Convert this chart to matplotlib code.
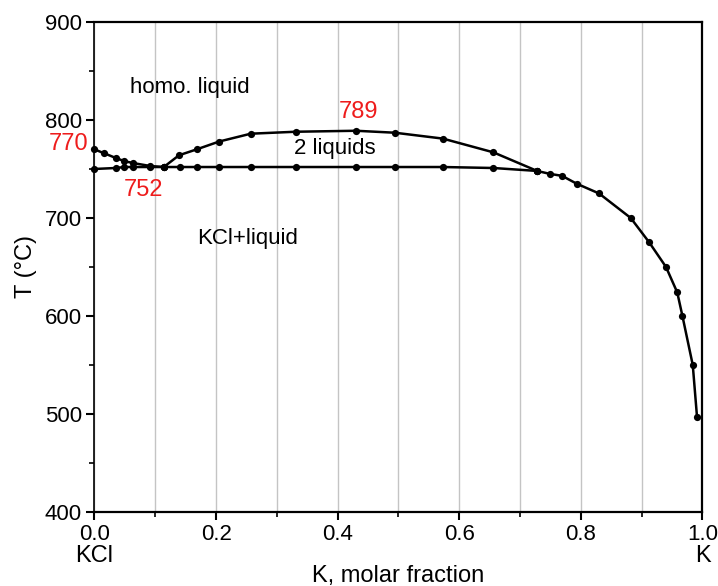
import matplotlib
matplotlib.use("Agg")
import matplotlib.pyplot as plt
from matplotlib.ticker import MultipleLocator
from matplotlib.transforms import blended_transform_factory

plt.rcParams['font.family'] = ['Liberation Sans', 'DejaVu Sans']

# KCl-side liquidus, from pure KCl down to the monotectic point
kcl_liq_x = [0.0, 0.016, 0.036, 0.049, 0.064, 0.092, 0.114]
kcl_liq_t = [770, 766, 761, 758, 756, 753, 752]

# Liquid miscibility gap (2 liquids dome)
dome_x = [0.114, 0.139, 0.168, 0.205, 0.257, 0.331, 0.430, 0.494, 0.573, 0.656, 0.728]
dome_t = [752, 764, 770, 778, 786, 788, 789, 787, 781, 767, 748]

# Monotectic / solidus line
mono_x = [0.0, 0.035, 0.049, 0.064, 0.092, 0.114, 0.140, 0.168, 0.205, 0.257,
          0.331, 0.430, 0.494, 0.573, 0.656, 0.728]
mono_t = [750, 751, 752, 752, 752, 752, 752, 752, 752, 752,
          752, 752, 752, 752, 751, 748]

# K-side liquidus
k_liq_x = [0.728, 0.749, 0.769, 0.793, 0.830, 0.882, 0.9125, 0.940, 0.9585, 0.967, 0.984, 0.991]
k_liq_t = [748, 745, 743, 735, 725, 700, 675, 650, 624, 600, 550, 497]

# Highlighted temperatures
key_labels = ['770', '752', '789']
key_pos = [(-0.042, 775.5), (0.081, 728.6), (0.435, 808.5)]

region_labels = ['homo. liquid', '2 liquids', 'KCl+liquid']
region_pos = [(0.157, 833.0), (0.396, 770.4), (0.252, 679.0)]

red = '#ee1c1c'

fig = plt.figure(figsize=(7.18, 5.86), dpi=100)
ax = fig.add_axes([0.1316, 0.1263, 0.8468, 0.8362])

for xs, ts in [(kcl_liq_x, kcl_liq_t), (dome_x, dome_t), (mono_x, mono_t), (k_liq_x, k_liq_t)]:
    ax.plot(xs, ts, '-o', color='black', lw=1.8, ms=5.2, mew=0, clip_on=False, zorder=4)

ax.set_xlim(0, 1)
ax.set_ylim(400, 900)
ax.xaxis.set_major_locator(MultipleLocator(0.2))
ax.xaxis.set_minor_locator(MultipleLocator(0.1))
ax.yaxis.set_major_locator(MultipleLocator(100))
ax.yaxis.set_minor_locator(MultipleLocator(50))
ax.xaxis.set_major_formatter(plt.FormatStrFormatter('%.1f'))

ax.grid(axis='x', which='both', color='#c4c4c4', lw=1.0)
ax.set_axisbelow(True)

ax.tick_params(which='major', direction='out', length=6, width=1.5, labelsize=16, pad=3)
ax.tick_params(which='minor', direction='out', length=3.5, width=1.2)
for side in ['top', 'right', 'bottom']:
    ax.spines[side].set_linewidth(1.6)
ax.spines['left'].set_linewidth(1.2)
ax.spines['left'].set_linestyle((0, (2, 1)))

ax.set_ylabel('T (°C)', fontsize=17, labelpad=6)
ax.set_xlabel('K, molar fraction', fontsize=17, labelpad=14)

tr = blended_transform_factory(ax.transData, ax.transAxes)
ax.annotate('KCl', xy=(0, 0), xycoords=tr, xytext=(0, -31.5), textcoords='offset points',
            ha='center', va='center', fontsize=17)
ax.annotate('K', xy=(1, 0), xycoords=tr, xytext=(0, -31.5), textcoords='offset points',
            ha='center', va='center', fontsize=17)

for lab, (x, t) in zip(key_labels, key_pos):
    ax.text(x, t, lab, color=red, fontsize=17, ha='center', va='center', clip_on=False)

for lab, (x, t) in zip(region_labels, region_pos):
    ax.text(x, t, lab, color='black', fontsize=16, ha='center', va='center')

fig.savefig('out.png', dpi=100)
